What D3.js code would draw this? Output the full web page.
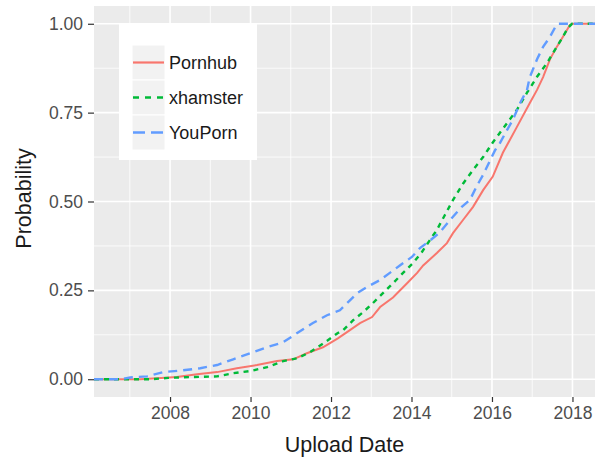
<!DOCTYPE html>
<html lang="en">
<head>
<meta charset="utf-8">
<title>ECDF upload date</title>
<script src="https://d3js.org/d3.v7.min.js"></script>
<style>
  body { margin: 0; background: #fff; }
  text { font-family: "Liberation Sans", Arial, sans-serif; }
</style>
</head>
<body>
<script>
// ---------- data ----------
var seriesNames = ["Pornhub", "xhamster", "YouPorn"];
var seriesColors = ["#F8766D", "#00BA38", "#619CFF"];
var seriesDash = [null, "5,5", "9,6"];

var xTicks = [2008, 2010, 2012, 2014, 2016, 2018];
var xMinor = [2007, 2009, 2011, 2013, 2015, 2017];
var yTicks = [0, 0.25, 0.5, 0.75, 1];
var yMinor = [0.125, 0.375, 0.625, 0.875];

var pornhubYear = [2006.11, 2007.25, 2007.68, 2008.17, 2008.67, 2009.17, 2009.66, 2010.16, 2010.66, 2011.06,
  2011.40, 2011.80, 2012.17, 2012.47, 2012.72, 2013.02, 2013.22, 2013.54, 2013.89, 2014.14, 2014.29,
  2014.63, 2014.88, 2015.03, 2015.28, 2015.53, 2015.78, 2016.02, 2016.27, 2016.62, 2016.94, 2017.12,
  2017.27, 2017.44, 2017.61, 2017.76, 2017.94, 2018.01, 2018.56];
var pornhubProb = [0, 0, 0.003, 0.006, 0.014, 0.02, 0.031, 0.04, 0.051, 0.056,
  0.073, 0.09, 0.115, 0.138, 0.158, 0.175, 0.203, 0.23, 0.27, 0.299, 0.32,
  0.355, 0.383, 0.411, 0.448, 0.485, 0.532, 0.57, 0.637, 0.71, 0.777, 0.814,
  0.85, 0.90, 0.935, 0.963, 0.997, 1, 1];

var xhamsterYear = [2006.11, 2007.50, 2008.00, 2008.50, 2009.17, 2009.57, 2009.99, 2010.41, 2010.81, 2011.16,
  2011.48, 2011.80, 2012.17, 2012.30, 2012.55, 2012.80, 2013.04, 2013.29, 2013.54, 2013.79, 2014.04,
  2014.26, 2014.46, 2014.63, 2014.83, 2015.03, 2015.28, 2015.53, 2015.78, 2016.02, 2016.37, 2016.62,
  2016.87, 2017.12, 2017.37, 2017.61, 2017.76, 2017.89, 2017.99, 2018.56];
var xhamsterProb = [0, 0, 0.004, 0.006, 0.008, 0.017, 0.023, 0.034, 0.051, 0.059,
  0.076, 0.10, 0.13, 0.138, 0.166, 0.189, 0.214, 0.242, 0.27, 0.299, 0.327,
  0.358, 0.392, 0.42, 0.462, 0.504, 0.55, 0.589, 0.625, 0.666, 0.72, 0.758,
  0.806, 0.851, 0.89, 0.935, 0.963, 0.989, 1, 1];

var youpornYear = [2006.11, 2006.76, 2007.01, 2007.43, 2007.83, 2008.32, 2008.75, 2009.17, 2009.57, 2009.99,
  2010.41, 2010.81, 2011.16, 2011.55, 2011.90, 2012.22, 2012.47, 2012.65, 2012.89, 2013.22, 2013.47,
  2013.71, 2014.01, 2014.21, 2014.46, 2014.71, 2014.96, 2015.25, 2015.45, 2015.63, 2015.78, 2015.95,
  2016.08, 2016.20, 2016.37, 2016.52, 2016.70, 2016.87, 2016.94, 2017.12, 2017.27, 2017.44, 2017.57,
  2017.64, 2018.56];
var youpornProb = [0, 0, 0.005, 0.008, 0.02, 0.025, 0.031, 0.04, 0.056, 0.073,
  0.09, 0.104, 0.13, 0.158, 0.18, 0.194, 0.222, 0.242, 0.259, 0.279, 0.30,
  0.32, 0.344, 0.369, 0.39, 0.414, 0.448, 0.485, 0.504, 0.545, 0.575, 0.615,
  0.645, 0.665, 0.70, 0.73, 0.777, 0.814, 0.85, 0.90, 0.935, 0.963, 0.99,
  1, 1];

var allYears = [pornhubYear, xhamsterYear, youpornYear];
var allProbs = [pornhubProb, xhamsterProb, youpornProb];

// ---------- layout ----------
var w = 602, h = 460;
var padL = 94, padR = 595, padT = 6, padB = 397;

var svg = d3.select("body").append("svg")
  .attr("width", w).attr("height", h);

var x = d3.scaleLinear().domain([2006.11, 2018.56]).range([padL, padR]);
var y = d3.scaleLinear().domain([-0.05, 1.05]).range([padB, padT]);

// panel
svg.append("rect")
  .attr("x", padL).attr("y", padT)
  .attr("width", padR - padL).attr("height", padB - padT)
  .attr("fill", "#EBEBEB");

// grid
var grid = svg.append("g");
grid.selectAll(".xmin").data(xMinor).enter().append("line")
  .attr("x1", d => x(d)).attr("x2", d => x(d))
  .attr("y1", padT).attr("y2", padB)
  .attr("stroke", "#fff").attr("stroke-width", 0.8);
grid.selectAll(".ymin").data(yMinor).enter().append("line")
  .attr("x1", padL).attr("x2", padR)
  .attr("y1", d => y(d)).attr("y2", d => y(d))
  .attr("stroke", "#fff").attr("stroke-width", 0.8);
grid.selectAll(".xmaj").data(xTicks).enter().append("line")
  .attr("x1", d => x(d)).attr("x2", d => x(d))
  .attr("y1", padT).attr("y2", padB)
  .attr("stroke", "#fff").attr("stroke-width", 1.6);
grid.selectAll(".ymaj").data(yTicks).enter().append("line")
  .attr("x1", padL).attr("x2", padR)
  .attr("y1", d => y(d)).attr("y2", d => y(d))
  .attr("stroke", "#fff").attr("stroke-width", 1.6);

// lines
var line = d3.line()
  .x(d => x(d[0]))
  .y(d => y(d[1]));

seriesNames.forEach(function(name, i) {
  var pts = allYears[i].map((yr, j) => [yr, allProbs[i][j]]);
  svg.append("path")
    .datum(pts)
    .attr("d", line)
    .attr("fill", "none")
    .attr("stroke", seriesColors[i])
    .attr("stroke-width", i == 0 ? 2 : 2.4)
    .attr("stroke-dasharray", seriesDash[i]);
});

// axes
var xAxis = d3.axisBottom(x).tickValues(xTicks).tickFormat(d3.format("d"))
  .tickSize(5).tickPadding(5);
var yAxis = d3.axisLeft(y).tickValues(yTicks).tickFormat(d3.format(".2f"))
  .tickSize(6).tickPadding(5);

var gx = svg.append("g").attr("transform", "translate(0," + padB + ")").call(xAxis);
var gy = svg.append("g").attr("transform", "translate(" + padL + ",0)").call(yAxis);

[gx, gy].forEach(function(g) {
  g.select(".domain").remove();
  g.selectAll(".tick line").attr("stroke", "#333").attr("stroke-width", 1.2);
  g.selectAll(".tick text")
    .attr("fill", "#4D4D4D")
    .style("font-size", "17.5px")
    .style("font-family", "Liberation Sans, Arial, sans-serif");
});

// axis titles
svg.append("text")
  .attr("x", (padL + padR) / 2).attr("y", 452)
  .attr("text-anchor", "middle")
  .style("font-size", "21.5px")
  .attr("fill", "#1a1a1a")
  .text("Upload Date");

svg.append("text")
  .attr("transform", "translate(31," + ((padT + padB) / 2 - 3) + ") rotate(-90)")
  .attr("text-anchor", "middle")
  .style("font-size", "21.5px")
  .attr("fill", "#1a1a1a")
  .text("Probability");

// legend
var lg = svg.append("g");
lg.append("rect")
  .attr("x", 119).attr("y", 24).attr("width", 138).attr("height", 136)
  .attr("fill", "#fff");

seriesNames.forEach(function(name, i) {
  var ky = 45 + i * 35;
  lg.append("rect")
    .attr("x", 132).attr("y", ky).attr("width", 33).attr("height", 35)
    .attr("fill", "#F2F2F2").attr("stroke", "#fff").attr("stroke-width", 1);
  lg.append("line")
    .attr("x1", 133).attr("x2", 164)
    .attr("y1", ky + 17.5).attr("y2", ky + 17.5)
    .attr("stroke", seriesColors[i])
    .attr("stroke-width", i == 0 ? 2.2 : 2.6)
    .attr("stroke-dasharray", i == 1 ? "6,6" : (i == 2 ? "12,6" : null));
  lg.append("text")
    .attr("x", 169).attr("y", ky + 17.5)
    .attr("dy", "0.35em")
    .style("font-size", "18px")
    .attr("fill", "#1a1a1a")
    .text(name);
});
</script>
</body>
</html>
